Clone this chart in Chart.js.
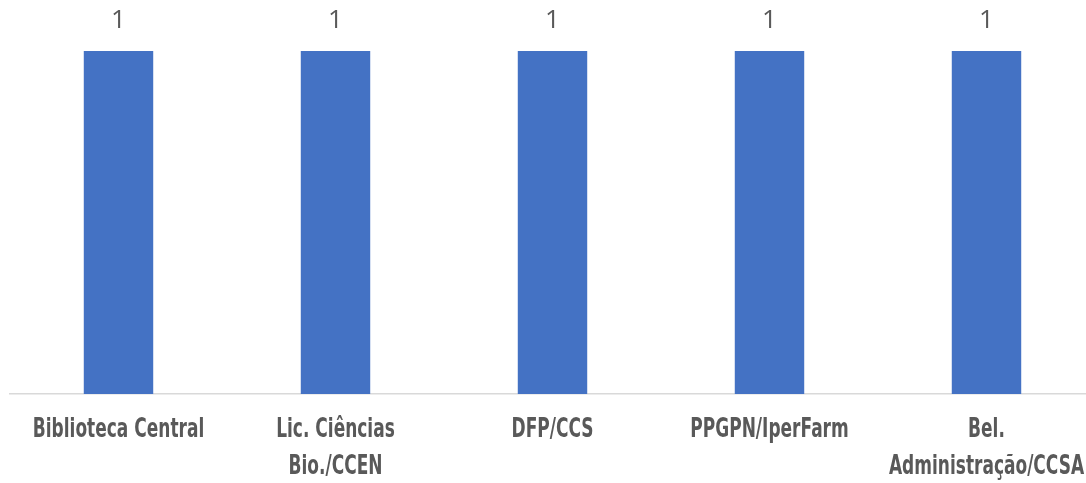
<!DOCTYPE html>
<html>
<head>
<meta charset="utf-8">
<script src="https://cdn.jsdelivr.net/npm/chart.js@4/dist/chart.umd.min.js"></script>
<style>
  html, body { margin: 0; padding: 0; background: #fff; overflow: hidden; }
  #wrap { width: 1086px; height: 483px; overflow: hidden; }
</style>
</head>
<body>
<div id="wrap"><canvas id="chart" width="1095" height="483"></canvas></div>
<script>
const categories = [
    'Biblioteca Central',
    ['Lic. Ciências', 'Bio./CCEN'],
    'DFP/CCS',
    'PPGPN/IperFarm',
    ['Bel.', 'Administração/CCSA']
];
const values = [1, 1, 1, 1, 1];

const labelColor = '#595959';

// value labels above each bar + condensed category labels under the axis
const labelsPlugin = {
    id: 'labelsPlugin',
    afterDatasetsDraw(chart) {
        const ctx = chart.ctx;
        const meta = chart.getDatasetMeta(0);
        ctx.save();
        ctx.font = '26px "Open Sans", sans-serif';
        ctx.fillStyle = labelColor;
        ctx.textAlign = 'center';
        ctx.textBaseline = 'middle';
        meta.data.forEach((bar, i) => {
            ctx.fillText(String(values[i]), bar.x, bar.y - 30);
        });
        ctx.restore();
    },
    afterDraw(chart) {
        const ctx = chart.ctx;
        const xs = chart.scales.x;
        const squeeze = 0.63;
        ctx.save();
        ctx.font = 'bold 27px "DejaVu Sans", sans-serif';
        ctx.fillStyle = labelColor;
        ctx.textAlign = 'center';
        ctx.textBaseline = 'middle';
        categories.forEach((lab, i) => {
            const lines = Array.isArray(lab) ? lab : [lab];
            const x = xs.getPixelForTick(i);
            lines.forEach((line, j) => {
                const y = xs.top + 36 + j * 37;
                ctx.save();
                ctx.translate(x, y);
                ctx.scale(squeeze, 1);
                ctx.fillText(line, 0, 0);
                ctx.restore();
            });
        });
        ctx.restore();
    }
};

const ctx = document.getElementById('chart').getContext('2d');
new Chart(ctx, {
    type: 'bar',
    data: {
        labels: categories,
        datasets: [{
            data: values,
            backgroundColor: '#4472C4',
            borderWidth: 0,
            barPercentage: 0.64,
            categoryPercentage: 0.5
        }]
    },
    options: {
        responsive: false,
        animation: false,
        layout: { padding: { left: 10, right: 0, top: 51, bottom: 0 } },
        plugins: {
            legend: { display: false },
            tooltip: { enabled: false }
        },
        scales: {
            x: {
                grid: { display: false, drawTicks: false },
                border: { display: true, color: '#d9d9d9', width: 1.5 },
                ticks: { display: false },
                afterFit(scale) { scale.height = 89; }
            },
            y: {
                display: false,
                min: 0,
                max: 1
            }
        }
    },
    plugins: [labelsPlugin]
});
</script>
</body>
</html>
